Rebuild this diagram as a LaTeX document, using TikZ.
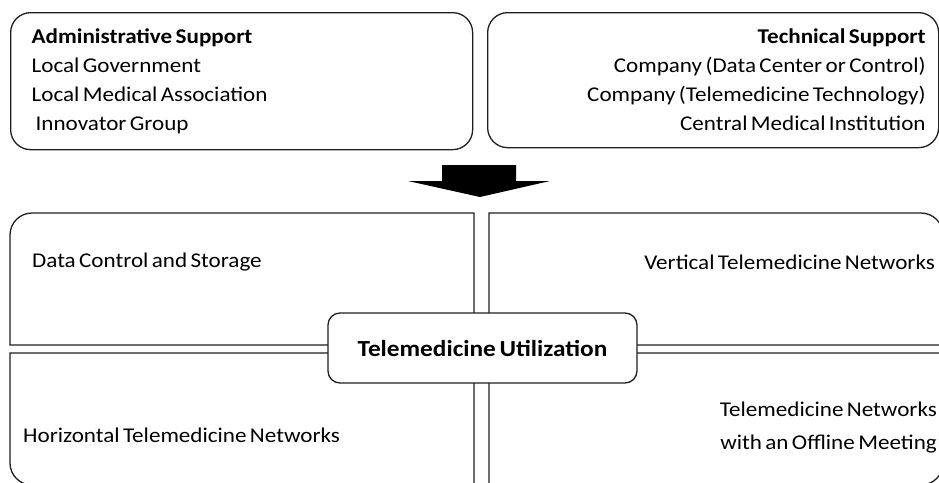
\documentclass[tikz,border=0pt]{standalone}
\usepackage{fontspec}
\setmainfont{Carlito}[FakeStretch=1.1, WordSpace=0.65]
\usetikzlibrary{positioning}

\begin{document}
\begin{tikzpicture}[x=1pt, y=-1pt,
  frame/.style={draw=black!88, line width=1.3pt},
  panel/.style={frame, rounded corners=20pt, anchor=north west, minimum height=137pt, font=\fontsize{21}{29}\selectfont},
  hub/.style={frame, fill=white, rounded corners=12pt, minimum width=309pt, minimum height=70pt, font=\fontsize{23}{26}\selectfont\bfseries},
  label/.style={inner sep=0pt, font=\fontsize{21}{33}\selectfont}]
\useasboundingbox (0,0) rectangle (939,482);
\begin{scope}
\clip (0,0) rectangle (939,482);

\node[panel, text width=420pt, inner xsep=21pt, align=flush left] (admin) at (10,12)
  {\textbf{Administrative Support}\\ Local Government\\ Local Medical Association\\ \hspace*{4pt}Innovator Group};
\node[panel, text width=425pt, inner xsep=13pt, align=flush right, minimum height=135pt] (tech) at (487,12)
  {\textbf{Technical Support}\\ Company (Data Center or Control)\\ Company (Telemedicine Technology)\\ Central Medical Institution};

\fill[black] (442,165) -- (516,165) -- (516,181) -- (550,181) -- (480,197) -- (408,181) -- (442,181) -- cycle;

\draw[frame] (474,345) -- (10,345) -- (10,235) arc[start angle=180, end angle=270, radius=22] -- (474,213) -- cycle;
\draw[frame] (489,345) -- (489,213) -- (921,213) arc[start angle=270, end angle=360, radius=22] -- (943,345) -- cycle;
\draw[frame] (10,353) -- (474,353) -- (474,485) -- (32,485) arc[start angle=90, end angle=180, radius=22] -- cycle;
\draw[frame] (489,353) -- (943,353) -- (943,463) arc[start angle=0, end angle=90, radius=22] -- (489,485) -- cycle;

\node[label, anchor=west] (store) at (32,262) {Data Control and Storage};
\node[label, anchor=east] (vertical) at (935,262) {Vertical Telemedicine Networks};
\node[label, anchor=west] (horizontal) at (23,435) {Horizontal Telemedicine Networks};
\node[label, anchor=east, align=flush right] (offline) at (937,428) {Telemedicine Networks\\ with an Offline Meeting};

\node[hub] (util) at (482.5,348) {Telemedicine Utilization};
\end{scope}
\end{tikzpicture}
\end{document}
